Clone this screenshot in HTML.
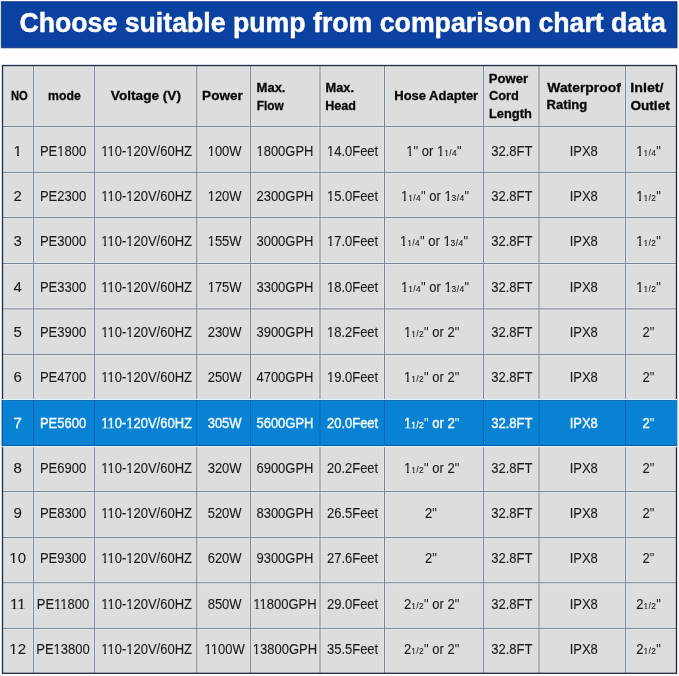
<!DOCTYPE html>
<html><head><meta charset="utf-8"><style>
html,body{margin:0;padding:0;}
body{width:679px;height:676px;background:#fdfefe;position:relative;overflow:hidden;font-family:"Liberation Sans",sans-serif;}
svg{position:absolute;left:0;top:0;will-change:transform;}
</style></head><body>
<svg width="679" height="676" viewBox="0 0 679 676">
<rect x="2.5" y="65.5" width="674.0" height="607.8" fill="#dcdddd"/>
<rect x="32.00" y="65.5" width="1" height="334.5" fill="#e8eef4" opacity="0.55"/>
<rect x="34.00" y="65.5" width="1" height="334.5" fill="#e8eef4" opacity="0.55"/>
<rect x="32.00" y="446.0" width="1" height="227.29999999999995" fill="#e8eef4" opacity="0.55"/>
<rect x="34.00" y="446.0" width="1" height="227.29999999999995" fill="#e8eef4" opacity="0.55"/>
<rect x="93.00" y="65.5" width="1" height="334.5" fill="#e8eef4" opacity="0.55"/>
<rect x="95.00" y="65.5" width="1" height="334.5" fill="#e8eef4" opacity="0.55"/>
<rect x="93.00" y="446.0" width="1" height="227.29999999999995" fill="#e8eef4" opacity="0.55"/>
<rect x="95.00" y="446.0" width="1" height="227.29999999999995" fill="#e8eef4" opacity="0.55"/>
<rect x="195.25" y="65.5" width="1" height="334.5" fill="#e8eef4" opacity="0.55"/>
<rect x="197.25" y="65.5" width="1" height="334.5" fill="#e8eef4" opacity="0.55"/>
<rect x="195.25" y="446.0" width="1" height="227.29999999999995" fill="#e8eef4" opacity="0.55"/>
<rect x="197.25" y="446.0" width="1" height="227.29999999999995" fill="#e8eef4" opacity="0.55"/>
<rect x="249.00" y="65.5" width="1" height="334.5" fill="#e8eef4" opacity="0.55"/>
<rect x="251.00" y="65.5" width="1" height="334.5" fill="#e8eef4" opacity="0.55"/>
<rect x="249.00" y="446.0" width="1" height="227.29999999999995" fill="#e8eef4" opacity="0.55"/>
<rect x="251.00" y="446.0" width="1" height="227.29999999999995" fill="#e8eef4" opacity="0.55"/>
<rect x="318.50" y="65.5" width="1" height="334.5" fill="#e8eef4" opacity="0.55"/>
<rect x="320.50" y="65.5" width="1" height="334.5" fill="#e8eef4" opacity="0.55"/>
<rect x="318.50" y="446.0" width="1" height="227.29999999999995" fill="#e8eef4" opacity="0.55"/>
<rect x="320.50" y="446.0" width="1" height="227.29999999999995" fill="#e8eef4" opacity="0.55"/>
<rect x="383.00" y="65.5" width="1" height="334.5" fill="#e8eef4" opacity="0.55"/>
<rect x="385.00" y="65.5" width="1" height="334.5" fill="#e8eef4" opacity="0.55"/>
<rect x="383.00" y="446.0" width="1" height="227.29999999999995" fill="#e8eef4" opacity="0.55"/>
<rect x="385.00" y="446.0" width="1" height="227.29999999999995" fill="#e8eef4" opacity="0.55"/>
<rect x="482.00" y="65.5" width="1" height="334.5" fill="#e8eef4" opacity="0.55"/>
<rect x="484.00" y="65.5" width="1" height="334.5" fill="#e8eef4" opacity="0.55"/>
<rect x="482.00" y="446.0" width="1" height="227.29999999999995" fill="#e8eef4" opacity="0.55"/>
<rect x="484.00" y="446.0" width="1" height="227.29999999999995" fill="#e8eef4" opacity="0.55"/>
<rect x="537.50" y="65.5" width="1" height="334.5" fill="#e8eef4" opacity="0.55"/>
<rect x="539.50" y="65.5" width="1" height="334.5" fill="#e8eef4" opacity="0.55"/>
<rect x="537.50" y="446.0" width="1" height="227.29999999999995" fill="#e8eef4" opacity="0.55"/>
<rect x="539.50" y="446.0" width="1" height="227.29999999999995" fill="#e8eef4" opacity="0.55"/>
<rect x="624.00" y="65.5" width="1" height="334.5" fill="#e8eef4" opacity="0.55"/>
<rect x="626.00" y="65.5" width="1" height="334.5" fill="#e8eef4" opacity="0.55"/>
<rect x="624.00" y="446.0" width="1" height="227.29999999999995" fill="#e8eef4" opacity="0.55"/>
<rect x="626.00" y="446.0" width="1" height="227.29999999999995" fill="#e8eef4" opacity="0.55"/>
<rect x="2.5" y="125.00" width="674.0" height="1" fill="#e8eef4" opacity="0.55"/>
<rect x="2.5" y="127.00" width="674.0" height="1" fill="#e8eef4" opacity="0.55"/>
<rect x="2.5" y="170.90" width="674.0" height="1" fill="#e8eef4" opacity="0.55"/>
<rect x="2.5" y="172.90" width="674.0" height="1" fill="#e8eef4" opacity="0.55"/>
<rect x="2.5" y="216.00" width="674.0" height="1" fill="#e8eef4" opacity="0.55"/>
<rect x="2.5" y="218.00" width="674.0" height="1" fill="#e8eef4" opacity="0.55"/>
<rect x="2.5" y="262.00" width="674.0" height="1" fill="#e8eef4" opacity="0.55"/>
<rect x="2.5" y="264.00" width="674.0" height="1" fill="#e8eef4" opacity="0.55"/>
<rect x="2.5" y="307.40" width="674.0" height="1" fill="#e8eef4" opacity="0.55"/>
<rect x="2.5" y="309.40" width="674.0" height="1" fill="#e8eef4" opacity="0.55"/>
<rect x="2.5" y="352.90" width="674.0" height="1" fill="#e8eef4" opacity="0.55"/>
<rect x="2.5" y="354.90" width="674.0" height="1" fill="#e8eef4" opacity="0.55"/>
<rect x="2.5" y="490.00" width="674.0" height="1" fill="#e8eef4" opacity="0.55"/>
<rect x="2.5" y="492.00" width="674.0" height="1" fill="#e8eef4" opacity="0.55"/>
<rect x="2.5" y="536.00" width="674.0" height="1" fill="#e8eef4" opacity="0.55"/>
<rect x="2.5" y="538.00" width="674.0" height="1" fill="#e8eef4" opacity="0.55"/>
<rect x="2.5" y="581.20" width="674.0" height="1" fill="#e8eef4" opacity="0.55"/>
<rect x="2.5" y="583.20" width="674.0" height="1" fill="#e8eef4" opacity="0.55"/>
<rect x="2.5" y="626.90" width="674.0" height="1" fill="#e8eef4" opacity="0.55"/>
<rect x="2.5" y="628.90" width="674.0" height="1" fill="#e8eef4" opacity="0.55"/>
<rect x="33.00" y="65.5" width="1" height="607.8" fill="#7c8594"/>
<rect x="94.00" y="65.5" width="1" height="607.8" fill="#7c8594"/>
<rect x="196.25" y="65.5" width="1" height="607.8" fill="#7c8594"/>
<rect x="250.00" y="65.5" width="1" height="607.8" fill="#7c8594"/>
<rect x="319.50" y="65.5" width="1" height="607.8" fill="#7c8594"/>
<rect x="384.00" y="65.5" width="1" height="607.8" fill="#7c8594"/>
<rect x="483.00" y="65.5" width="1" height="607.8" fill="#7c8594"/>
<rect x="538.50" y="65.5" width="1" height="607.8" fill="#7c8594"/>
<rect x="625.00" y="65.5" width="1" height="607.8" fill="#7c8594"/>
<rect x="2.5" y="126.00" width="674.0" height="1" fill="#7c8594"/>
<rect x="2.5" y="171.90" width="674.0" height="1" fill="#7c8594"/>
<rect x="2.5" y="217.00" width="674.0" height="1" fill="#7c8594"/>
<rect x="2.5" y="263.00" width="674.0" height="1" fill="#7c8594"/>
<rect x="2.5" y="308.40" width="674.0" height="1" fill="#7c8594"/>
<rect x="2.5" y="353.90" width="674.0" height="1" fill="#7c8594"/>
<rect x="2.5" y="491.00" width="674.0" height="1" fill="#7c8594"/>
<rect x="2.5" y="537.00" width="674.0" height="1" fill="#7c8594"/>
<rect x="2.5" y="582.20" width="674.0" height="1" fill="#7c8594"/>
<rect x="2.5" y="627.90" width="674.0" height="1" fill="#7c8594"/>
<rect x="2.5" y="65.5" width="674.0" height="607.8" fill="none" stroke="#1d2947" stroke-width="1.3"/>
<rect x="1.8" y="399.0" width="675.4000000000001" height="1" fill="#e2f3fa"/>
<rect x="1.8" y="446.0" width="675.4000000000001" height="1.2" fill="#e0f0f8"/>
<rect x="1.8" y="400.0" width="675.4000000000001" height="46.0" fill="#0982d4"/>
<rect x="1.8" y="400.0" width="675.4000000000001" height="1" fill="#1a6cb0" opacity="0.8"/>
<rect x="1.8" y="445.0" width="675.4000000000001" height="1" fill="#0a58a8" opacity="0.9"/>
<rect x="1.8" y="400.0" width="1.2" height="46.0" fill="#0a5aa8"/>
<rect x="33.00" y="400.0" width="1" height="46.0" fill="#0a66b8"/>
<rect x="94.00" y="400.0" width="1" height="46.0" fill="#0a66b8"/>
<rect x="196.25" y="400.0" width="1" height="46.0" fill="#0a66b8"/>
<rect x="250.00" y="400.0" width="1" height="46.0" fill="#0a66b8"/>
<rect x="319.50" y="400.0" width="1" height="46.0" fill="#0a66b8"/>
<rect x="384.00" y="400.0" width="1" height="46.0" fill="#0a66b8"/>
<rect x="483.00" y="400.0" width="1" height="46.0" fill="#0a66b8"/>
<rect x="538.50" y="400.0" width="1" height="46.0" fill="#0a66b8"/>
<rect x="625.00" y="400.0" width="1" height="46.0" fill="#0a66b8"/>
<rect x="1.3" y="1.7" width="675.7" height="46.1" fill="#0b41a0"/>
<rect x="1.3" y="1.7" width="675.7" height="46.1" fill="none" stroke="#0a2a78" stroke-width="1" opacity="0.8"/>
<text x="19.44" y="31.9" font-family="Liberation Sans" font-weight="bold" font-size="26.8" fill="#ffffff" stroke="#ffffff" stroke-width="0.45" textLength="646.52" lengthAdjust="spacingAndGlyphs">Choose suitable pump from comparison chart data</text>
<text x="10.96" y="100.20" font-family="Liberation Sans" font-weight="bold" font-size="13.4" fill="#080808" stroke="#080808" stroke-width="0.3" textLength="16.79" lengthAdjust="spacingAndGlyphs">NO</text>
<text x="48.05" y="100.20" font-family="Liberation Sans" font-weight="bold" font-size="13.4" fill="#080808" stroke="#080808" stroke-width="0.3" textLength="32.65" lengthAdjust="spacingAndGlyphs">mode</text>
<text x="110.88" y="100.20" font-family="Liberation Sans" font-weight="bold" font-size="13.4" fill="#080808" stroke="#080808" stroke-width="0.3" textLength="70.09" lengthAdjust="spacingAndGlyphs">Voltage (V)</text>
<text x="202.10" y="100.20" font-family="Liberation Sans" font-weight="bold" font-size="13.4" fill="#080808" stroke="#080808" stroke-width="0.3" textLength="40.64" lengthAdjust="spacingAndGlyphs">Power</text>
<text x="256.54" y="91.80" font-family="Liberation Sans" font-weight="bold" font-size="13.4" fill="#080808" stroke="#080808" stroke-width="0.3" textLength="28.97" lengthAdjust="spacingAndGlyphs">Max.</text>
<text x="256.71" y="109.60" font-family="Liberation Sans" font-weight="bold" font-size="13.4" fill="#080808" stroke="#080808" stroke-width="0.3" textLength="27.05" lengthAdjust="spacingAndGlyphs">Flow</text>
<text x="325.45" y="91.80" font-family="Liberation Sans" font-weight="bold" font-size="13.4" fill="#080808" stroke="#080808" stroke-width="0.3" textLength="28.58" lengthAdjust="spacingAndGlyphs">Max.</text>
<text x="325.15" y="109.60" font-family="Liberation Sans" font-weight="bold" font-size="13.4" fill="#080808" stroke="#080808" stroke-width="0.3" textLength="30.66" lengthAdjust="spacingAndGlyphs">Head</text>
<text x="394.25" y="99.90" font-family="Liberation Sans" font-weight="bold" font-size="13.4" fill="#080808" stroke="#080808" stroke-width="0.3" textLength="83.92" lengthAdjust="spacingAndGlyphs">Hose Adapter</text>
<text x="488.85" y="82.60" font-family="Liberation Sans" font-weight="bold" font-size="13.4" fill="#080808" stroke="#080808" stroke-width="0.3" textLength="39.34" lengthAdjust="spacingAndGlyphs">Power</text>
<text x="489.07" y="100.20" font-family="Liberation Sans" font-weight="bold" font-size="13.4" fill="#080808" stroke="#080808" stroke-width="0.3" textLength="29.81" lengthAdjust="spacingAndGlyphs">Cord</text>
<text x="488.96" y="118.30" font-family="Liberation Sans" font-weight="bold" font-size="13.4" fill="#080808" stroke="#080808" stroke-width="0.3" textLength="42.92" lengthAdjust="spacingAndGlyphs">Length</text>
<text x="547.31" y="91.50" font-family="Liberation Sans" font-weight="bold" font-size="13.4" fill="#080808" stroke="#080808" stroke-width="0.3" textLength="73.49" lengthAdjust="spacingAndGlyphs">Waterproof</text>
<text x="546.60" y="109.40" font-family="Liberation Sans" font-weight="bold" font-size="13.4" fill="#080808" stroke="#080808" stroke-width="0.3" textLength="40.61" lengthAdjust="spacingAndGlyphs">Rating</text>
<text x="630.26" y="92.00" font-family="Liberation Sans" font-weight="bold" font-size="13.4" fill="#080808" stroke="#080808" stroke-width="0.3" textLength="33.33" lengthAdjust="spacingAndGlyphs">Inlet/</text>
<text x="630.46" y="109.60" font-family="Liberation Sans" font-weight="bold" font-size="13.4" fill="#080808" stroke="#080808" stroke-width="0.3" textLength="39.27" lengthAdjust="spacingAndGlyphs">Outlet</text>
<text class="b" transform="translate(17.70,155.90) scale(1,1.03)" x="0" y="0" font-family="Liberation Sans" font-size="15" fill="#1a1a1a" stroke="#1a1a1a" stroke-width="0.1" text-anchor="middle">1</text>
<text class="b" transform="translate(63.00,155.90) scale(1,1.06)" x="0" y="0" font-family="Liberation Sans" font-size="13" fill="#1a1a1a" stroke="#1a1a1a" stroke-width="0.1" text-anchor="middle">PE1800</text>
<text class="b" transform="translate(146.62,155.90) scale(1,1.06)" x="0" y="0" font-family="Liberation Sans" font-size="13" fill="#1a1a1a" stroke="#1a1a1a" stroke-width="0.1" text-anchor="middle">110-120V/60HZ</text>
<text class="b" transform="translate(224.62,155.90) scale(1,1.06)" x="0" y="0" font-family="Liberation Sans" font-size="13" fill="#1a1a1a" stroke="#1a1a1a" stroke-width="0.1" text-anchor="middle">100W</text>
<text class="b" transform="translate(284.95,155.90) scale(1,1.06)" x="0" y="0" font-family="Liberation Sans" font-size="13" fill="#1a1a1a" stroke="#1a1a1a" stroke-width="0.1" text-anchor="middle">1800GPH</text>
<text class="b" transform="translate(352.55,155.90) scale(1,1.06)" x="0" y="0" font-family="Liberation Sans" font-size="13" fill="#1a1a1a" stroke="#1a1a1a" stroke-width="0.1" text-anchor="middle">14.0Feet</text>
<text class="b" transform="translate(434.00,155.90) scale(1,1.06)" x="0" y="0" font-family="Liberation Sans" font-size="13" fill="#1a1a1a" stroke="#1a1a1a" stroke-width="0.1" text-anchor="middle">1<tspan stroke-width="0" font-size="13">"</tspan> or 1<tspan font-size="8.4" letter-spacing="0.4">1/4</tspan><tspan stroke-width="0" font-size="13">"</tspan></text>
<text class="b" transform="translate(511.85,155.90) scale(1,1.06)" x="0" y="0" font-family="Liberation Sans" font-size="13" fill="#1a1a1a" stroke="#1a1a1a" stroke-width="0.1" text-anchor="middle">32.8FT</text>
<text class="b" transform="translate(583.75,155.90) scale(1,1.06)" x="0" y="0" font-family="Liberation Sans" font-size="13" fill="#1a1a1a" stroke="#1a1a1a" stroke-width="0.1" text-anchor="middle">IPX8</text>
<text class="b" transform="translate(648.50,155.90) scale(1,1.06)" x="0" y="0" font-family="Liberation Sans" font-size="13" fill="#1a1a1a" stroke="#1a1a1a" stroke-width="0.1" text-anchor="middle">1<tspan font-size="8.4" letter-spacing="0.4">1/4</tspan><tspan stroke-width="0" font-size="13">"</tspan></text>
<text class="b" transform="translate(17.70,201.17) scale(1,1.03)" x="0" y="0" font-family="Liberation Sans" font-size="15" fill="#1a1a1a" stroke="#1a1a1a" stroke-width="0.1" text-anchor="middle">2</text>
<text class="b" transform="translate(63.00,201.17) scale(1,1.06)" x="0" y="0" font-family="Liberation Sans" font-size="13" fill="#1a1a1a" stroke="#1a1a1a" stroke-width="0.1" text-anchor="middle">PE2300</text>
<text class="b" transform="translate(146.62,201.17) scale(1,1.06)" x="0" y="0" font-family="Liberation Sans" font-size="13" fill="#1a1a1a" stroke="#1a1a1a" stroke-width="0.1" text-anchor="middle">110-120V/60HZ</text>
<text class="b" transform="translate(224.62,201.17) scale(1,1.06)" x="0" y="0" font-family="Liberation Sans" font-size="13" fill="#1a1a1a" stroke="#1a1a1a" stroke-width="0.1" text-anchor="middle">120W</text>
<text class="b" transform="translate(284.95,201.17) scale(1,1.06)" x="0" y="0" font-family="Liberation Sans" font-size="13" fill="#1a1a1a" stroke="#1a1a1a" stroke-width="0.1" text-anchor="middle">2300GPH</text>
<text class="b" transform="translate(352.55,201.17) scale(1,1.06)" x="0" y="0" font-family="Liberation Sans" font-size="13" fill="#1a1a1a" stroke="#1a1a1a" stroke-width="0.1" text-anchor="middle">15.0Feet</text>
<text class="b" transform="translate(435.00,201.17) scale(1,1.06)" x="0" y="0" font-family="Liberation Sans" font-size="13" fill="#1a1a1a" stroke="#1a1a1a" stroke-width="0.1" text-anchor="middle">1<tspan font-size="8.4" letter-spacing="0.4">1/4</tspan><tspan stroke-width="0" font-size="13">"</tspan> or 1<tspan font-size="8.4" letter-spacing="0.4">3/4</tspan><tspan stroke-width="0" font-size="13">"</tspan></text>
<text class="b" transform="translate(511.85,201.17) scale(1,1.06)" x="0" y="0" font-family="Liberation Sans" font-size="13" fill="#1a1a1a" stroke="#1a1a1a" stroke-width="0.1" text-anchor="middle">32.8FT</text>
<text class="b" transform="translate(583.75,201.17) scale(1,1.06)" x="0" y="0" font-family="Liberation Sans" font-size="13" fill="#1a1a1a" stroke="#1a1a1a" stroke-width="0.1" text-anchor="middle">IPX8</text>
<text class="b" transform="translate(648.50,201.17) scale(1,1.06)" x="0" y="0" font-family="Liberation Sans" font-size="13" fill="#1a1a1a" stroke="#1a1a1a" stroke-width="0.1" text-anchor="middle">1<tspan font-size="8.4" letter-spacing="0.4">1/2</tspan><tspan stroke-width="0" font-size="13">"</tspan></text>
<text class="b" transform="translate(17.70,246.44) scale(1,1.03)" x="0" y="0" font-family="Liberation Sans" font-size="15" fill="#1a1a1a" stroke="#1a1a1a" stroke-width="0.1" text-anchor="middle">3</text>
<text class="b" transform="translate(63.00,246.44) scale(1,1.06)" x="0" y="0" font-family="Liberation Sans" font-size="13" fill="#1a1a1a" stroke="#1a1a1a" stroke-width="0.1" text-anchor="middle">PE3000</text>
<text class="b" transform="translate(146.62,246.44) scale(1,1.06)" x="0" y="0" font-family="Liberation Sans" font-size="13" fill="#1a1a1a" stroke="#1a1a1a" stroke-width="0.1" text-anchor="middle">110-120V/60HZ</text>
<text class="b" transform="translate(224.62,246.44) scale(1,1.06)" x="0" y="0" font-family="Liberation Sans" font-size="13" fill="#1a1a1a" stroke="#1a1a1a" stroke-width="0.1" text-anchor="middle">155W</text>
<text class="b" transform="translate(284.95,246.44) scale(1,1.06)" x="0" y="0" font-family="Liberation Sans" font-size="13" fill="#1a1a1a" stroke="#1a1a1a" stroke-width="0.1" text-anchor="middle">3000GPH</text>
<text class="b" transform="translate(352.55,246.44) scale(1,1.06)" x="0" y="0" font-family="Liberation Sans" font-size="13" fill="#1a1a1a" stroke="#1a1a1a" stroke-width="0.1" text-anchor="middle">17.0Feet</text>
<text class="b" transform="translate(434.00,246.44) scale(1,1.06)" x="0" y="0" font-family="Liberation Sans" font-size="13" fill="#1a1a1a" stroke="#1a1a1a" stroke-width="0.1" text-anchor="middle">1<tspan font-size="8.4" letter-spacing="0.4">1/4</tspan><tspan stroke-width="0" font-size="13">"</tspan> or 1<tspan font-size="8.4" letter-spacing="0.4">3/4</tspan><tspan stroke-width="0" font-size="13">"</tspan></text>
<text class="b" transform="translate(511.85,246.44) scale(1,1.06)" x="0" y="0" font-family="Liberation Sans" font-size="13" fill="#1a1a1a" stroke="#1a1a1a" stroke-width="0.1" text-anchor="middle">32.8FT</text>
<text class="b" transform="translate(583.75,246.44) scale(1,1.06)" x="0" y="0" font-family="Liberation Sans" font-size="13" fill="#1a1a1a" stroke="#1a1a1a" stroke-width="0.1" text-anchor="middle">IPX8</text>
<text class="b" transform="translate(648.50,246.44) scale(1,1.06)" x="0" y="0" font-family="Liberation Sans" font-size="13" fill="#1a1a1a" stroke="#1a1a1a" stroke-width="0.1" text-anchor="middle">1<tspan font-size="8.4" letter-spacing="0.4">1/2</tspan><tspan stroke-width="0" font-size="13">"</tspan></text>
<text class="b" transform="translate(17.70,291.71) scale(1,1.03)" x="0" y="0" font-family="Liberation Sans" font-size="15" fill="#1a1a1a" stroke="#1a1a1a" stroke-width="0.1" text-anchor="middle">4</text>
<text class="b" transform="translate(63.00,291.71) scale(1,1.06)" x="0" y="0" font-family="Liberation Sans" font-size="13" fill="#1a1a1a" stroke="#1a1a1a" stroke-width="0.1" text-anchor="middle">PE3300</text>
<text class="b" transform="translate(146.62,291.71) scale(1,1.06)" x="0" y="0" font-family="Liberation Sans" font-size="13" fill="#1a1a1a" stroke="#1a1a1a" stroke-width="0.1" text-anchor="middle">110-120V/60HZ</text>
<text class="b" transform="translate(224.62,291.71) scale(1,1.06)" x="0" y="0" font-family="Liberation Sans" font-size="13" fill="#1a1a1a" stroke="#1a1a1a" stroke-width="0.1" text-anchor="middle">175W</text>
<text class="b" transform="translate(284.95,291.71) scale(1,1.06)" x="0" y="0" font-family="Liberation Sans" font-size="13" fill="#1a1a1a" stroke="#1a1a1a" stroke-width="0.1" text-anchor="middle">3300GPH</text>
<text class="b" transform="translate(352.55,291.71) scale(1,1.06)" x="0" y="0" font-family="Liberation Sans" font-size="13" fill="#1a1a1a" stroke="#1a1a1a" stroke-width="0.1" text-anchor="middle">18.0Feet</text>
<text class="b" transform="translate(435.00,291.71) scale(1,1.06)" x="0" y="0" font-family="Liberation Sans" font-size="13" fill="#1a1a1a" stroke="#1a1a1a" stroke-width="0.1" text-anchor="middle">1<tspan font-size="8.4" letter-spacing="0.4">1/4</tspan><tspan stroke-width="0" font-size="13">"</tspan> or 1<tspan font-size="8.4" letter-spacing="0.4">3/4</tspan><tspan stroke-width="0" font-size="13">"</tspan></text>
<text class="b" transform="translate(511.85,291.71) scale(1,1.06)" x="0" y="0" font-family="Liberation Sans" font-size="13" fill="#1a1a1a" stroke="#1a1a1a" stroke-width="0.1" text-anchor="middle">32.8FT</text>
<text class="b" transform="translate(583.75,291.71) scale(1,1.06)" x="0" y="0" font-family="Liberation Sans" font-size="13" fill="#1a1a1a" stroke="#1a1a1a" stroke-width="0.1" text-anchor="middle">IPX8</text>
<text class="b" transform="translate(648.50,291.71) scale(1,1.06)" x="0" y="0" font-family="Liberation Sans" font-size="13" fill="#1a1a1a" stroke="#1a1a1a" stroke-width="0.1" text-anchor="middle">1<tspan font-size="8.4" letter-spacing="0.4">1/2</tspan><tspan stroke-width="0" font-size="13">"</tspan></text>
<text class="b" transform="translate(17.70,336.98) scale(1,1.03)" x="0" y="0" font-family="Liberation Sans" font-size="15" fill="#1a1a1a" stroke="#1a1a1a" stroke-width="0.1" text-anchor="middle">5</text>
<text class="b" transform="translate(63.00,336.98) scale(1,1.06)" x="0" y="0" font-family="Liberation Sans" font-size="13" fill="#1a1a1a" stroke="#1a1a1a" stroke-width="0.1" text-anchor="middle">PE3900</text>
<text class="b" transform="translate(146.62,336.98) scale(1,1.06)" x="0" y="0" font-family="Liberation Sans" font-size="13" fill="#1a1a1a" stroke="#1a1a1a" stroke-width="0.1" text-anchor="middle">110-120V/60HZ</text>
<text class="b" transform="translate(224.62,336.98) scale(1,1.06)" x="0" y="0" font-family="Liberation Sans" font-size="13" fill="#1a1a1a" stroke="#1a1a1a" stroke-width="0.1" text-anchor="middle">230W</text>
<text class="b" transform="translate(284.95,336.98) scale(1,1.06)" x="0" y="0" font-family="Liberation Sans" font-size="13" fill="#1a1a1a" stroke="#1a1a1a" stroke-width="0.1" text-anchor="middle">3900GPH</text>
<text class="b" transform="translate(352.55,336.98) scale(1,1.06)" x="0" y="0" font-family="Liberation Sans" font-size="13" fill="#1a1a1a" stroke="#1a1a1a" stroke-width="0.1" text-anchor="middle">18.2Feet</text>
<text class="b" transform="translate(431.60,336.98) scale(1,1.06)" x="0" y="0" font-family="Liberation Sans" font-size="13" fill="#1a1a1a" stroke="#1a1a1a" stroke-width="0.1" text-anchor="middle">1<tspan font-size="8.4" letter-spacing="0.4">1/2</tspan><tspan stroke-width="0" font-size="13">"</tspan> or 2<tspan stroke-width="0" font-size="13">"</tspan></text>
<text class="b" transform="translate(511.85,336.98) scale(1,1.06)" x="0" y="0" font-family="Liberation Sans" font-size="13" fill="#1a1a1a" stroke="#1a1a1a" stroke-width="0.1" text-anchor="middle">32.8FT</text>
<text class="b" transform="translate(583.75,336.98) scale(1,1.06)" x="0" y="0" font-family="Liberation Sans" font-size="13" fill="#1a1a1a" stroke="#1a1a1a" stroke-width="0.1" text-anchor="middle">IPX8</text>
<text class="b" transform="translate(648.50,336.98) scale(1,1.06)" x="0" y="0" font-family="Liberation Sans" font-size="13" fill="#1a1a1a" stroke="#1a1a1a" stroke-width="0.1" text-anchor="middle">2<tspan stroke-width="0" font-size="13">"</tspan></text>
<text class="b" transform="translate(17.70,382.25) scale(1,1.03)" x="0" y="0" font-family="Liberation Sans" font-size="15" fill="#1a1a1a" stroke="#1a1a1a" stroke-width="0.1" text-anchor="middle">6</text>
<text class="b" transform="translate(63.00,382.25) scale(1,1.06)" x="0" y="0" font-family="Liberation Sans" font-size="13" fill="#1a1a1a" stroke="#1a1a1a" stroke-width="0.1" text-anchor="middle">PE4700</text>
<text class="b" transform="translate(146.62,382.25) scale(1,1.06)" x="0" y="0" font-family="Liberation Sans" font-size="13" fill="#1a1a1a" stroke="#1a1a1a" stroke-width="0.1" text-anchor="middle">110-120V/60HZ</text>
<text class="b" transform="translate(224.62,382.25) scale(1,1.06)" x="0" y="0" font-family="Liberation Sans" font-size="13" fill="#1a1a1a" stroke="#1a1a1a" stroke-width="0.1" text-anchor="middle">250W</text>
<text class="b" transform="translate(284.95,382.25) scale(1,1.06)" x="0" y="0" font-family="Liberation Sans" font-size="13" fill="#1a1a1a" stroke="#1a1a1a" stroke-width="0.1" text-anchor="middle">4700GPH</text>
<text class="b" transform="translate(352.55,382.25) scale(1,1.06)" x="0" y="0" font-family="Liberation Sans" font-size="13" fill="#1a1a1a" stroke="#1a1a1a" stroke-width="0.1" text-anchor="middle">19.0Feet</text>
<text class="b" transform="translate(431.60,382.25) scale(1,1.06)" x="0" y="0" font-family="Liberation Sans" font-size="13" fill="#1a1a1a" stroke="#1a1a1a" stroke-width="0.1" text-anchor="middle">1<tspan font-size="8.4" letter-spacing="0.4">1/2</tspan><tspan stroke-width="0" font-size="13">"</tspan> or 2<tspan stroke-width="0" font-size="13">"</tspan></text>
<text class="b" transform="translate(511.85,382.25) scale(1,1.06)" x="0" y="0" font-family="Liberation Sans" font-size="13" fill="#1a1a1a" stroke="#1a1a1a" stroke-width="0.1" text-anchor="middle">32.8FT</text>
<text class="b" transform="translate(583.75,382.25) scale(1,1.06)" x="0" y="0" font-family="Liberation Sans" font-size="13" fill="#1a1a1a" stroke="#1a1a1a" stroke-width="0.1" text-anchor="middle">IPX8</text>
<text class="b" transform="translate(648.50,382.25) scale(1,1.06)" x="0" y="0" font-family="Liberation Sans" font-size="13" fill="#1a1a1a" stroke="#1a1a1a" stroke-width="0.1" text-anchor="middle">2<tspan stroke-width="0" font-size="13">"</tspan></text>
<text class="b" transform="translate(17.70,427.52) scale(1,1.03)" x="0" y="0" font-family="Liberation Sans" font-size="15" fill="#f4fbff" stroke="#f4fbff" stroke-width="0.35" text-anchor="middle">7</text>
<text class="b" transform="translate(63.00,427.52) scale(1,1.06)" x="0" y="0" font-family="Liberation Sans" font-size="13" fill="#f4fbff" stroke="#f4fbff" stroke-width="0.35" text-anchor="middle">PE5600</text>
<text class="b" transform="translate(146.62,427.52) scale(1,1.06)" x="0" y="0" font-family="Liberation Sans" font-size="13" fill="#f4fbff" stroke="#f4fbff" stroke-width="0.35" text-anchor="middle">110-120V/60HZ</text>
<text class="b" transform="translate(224.62,427.52) scale(1,1.06)" x="0" y="0" font-family="Liberation Sans" font-size="13" fill="#f4fbff" stroke="#f4fbff" stroke-width="0.35" text-anchor="middle">305W</text>
<text class="b" transform="translate(284.95,427.52) scale(1,1.06)" x="0" y="0" font-family="Liberation Sans" font-size="13" fill="#f4fbff" stroke="#f4fbff" stroke-width="0.35" text-anchor="middle">5600GPH</text>
<text class="b" transform="translate(352.55,427.52) scale(1,1.06)" x="0" y="0" font-family="Liberation Sans" font-size="13" fill="#f4fbff" stroke="#f4fbff" stroke-width="0.35" text-anchor="middle">20.0Feet</text>
<text class="b" transform="translate(431.60,427.52) scale(1,1.06)" x="0" y="0" font-family="Liberation Sans" font-size="13" fill="#f4fbff" stroke="#f4fbff" stroke-width="0.35" text-anchor="middle">1<tspan font-size="8.4" letter-spacing="0.4">1/2</tspan><tspan stroke-width="0" font-size="13">"</tspan> or 2<tspan stroke-width="0" font-size="13">"</tspan></text>
<text class="b" transform="translate(511.85,427.52) scale(1,1.06)" x="0" y="0" font-family="Liberation Sans" font-size="13" fill="#f4fbff" stroke="#f4fbff" stroke-width="0.35" text-anchor="middle">32.8FT</text>
<text class="b" transform="translate(583.75,427.52) scale(1,1.06)" x="0" y="0" font-family="Liberation Sans" font-size="13" fill="#f4fbff" stroke="#f4fbff" stroke-width="0.35" text-anchor="middle">IPX8</text>
<text class="b" transform="translate(648.50,427.52) scale(1,1.06)" x="0" y="0" font-family="Liberation Sans" font-size="13" fill="#f4fbff" stroke="#f4fbff" stroke-width="0.35" text-anchor="middle">2<tspan stroke-width="0" font-size="13">"</tspan></text>
<text class="b" transform="translate(17.70,472.79) scale(1,1.03)" x="0" y="0" font-family="Liberation Sans" font-size="15" fill="#1a1a1a" stroke="#1a1a1a" stroke-width="0.1" text-anchor="middle">8</text>
<text class="b" transform="translate(63.00,472.79) scale(1,1.06)" x="0" y="0" font-family="Liberation Sans" font-size="13" fill="#1a1a1a" stroke="#1a1a1a" stroke-width="0.1" text-anchor="middle">PE6900</text>
<text class="b" transform="translate(146.62,472.79) scale(1,1.06)" x="0" y="0" font-family="Liberation Sans" font-size="13" fill="#1a1a1a" stroke="#1a1a1a" stroke-width="0.1" text-anchor="middle">110-120V/60HZ</text>
<text class="b" transform="translate(224.62,472.79) scale(1,1.06)" x="0" y="0" font-family="Liberation Sans" font-size="13" fill="#1a1a1a" stroke="#1a1a1a" stroke-width="0.1" text-anchor="middle">320W</text>
<text class="b" transform="translate(284.95,472.79) scale(1,1.06)" x="0" y="0" font-family="Liberation Sans" font-size="13" fill="#1a1a1a" stroke="#1a1a1a" stroke-width="0.1" text-anchor="middle">6900GPH</text>
<text class="b" transform="translate(352.55,472.79) scale(1,1.06)" x="0" y="0" font-family="Liberation Sans" font-size="13" fill="#1a1a1a" stroke="#1a1a1a" stroke-width="0.1" text-anchor="middle">20.2Feet</text>
<text class="b" transform="translate(431.60,472.79) scale(1,1.06)" x="0" y="0" font-family="Liberation Sans" font-size="13" fill="#1a1a1a" stroke="#1a1a1a" stroke-width="0.1" text-anchor="middle">1<tspan font-size="8.4" letter-spacing="0.4">1/2</tspan><tspan stroke-width="0" font-size="13">"</tspan> or 2<tspan stroke-width="0" font-size="13">"</tspan></text>
<text class="b" transform="translate(511.85,472.79) scale(1,1.06)" x="0" y="0" font-family="Liberation Sans" font-size="13" fill="#1a1a1a" stroke="#1a1a1a" stroke-width="0.1" text-anchor="middle">32.8FT</text>
<text class="b" transform="translate(583.75,472.79) scale(1,1.06)" x="0" y="0" font-family="Liberation Sans" font-size="13" fill="#1a1a1a" stroke="#1a1a1a" stroke-width="0.1" text-anchor="middle">IPX8</text>
<text class="b" transform="translate(648.50,472.79) scale(1,1.06)" x="0" y="0" font-family="Liberation Sans" font-size="13" fill="#1a1a1a" stroke="#1a1a1a" stroke-width="0.1" text-anchor="middle">2<tspan stroke-width="0" font-size="13">"</tspan></text>
<text class="b" transform="translate(17.70,518.06) scale(1,1.03)" x="0" y="0" font-family="Liberation Sans" font-size="15" fill="#1a1a1a" stroke="#1a1a1a" stroke-width="0.1" text-anchor="middle">9</text>
<text class="b" transform="translate(63.00,518.06) scale(1,1.06)" x="0" y="0" font-family="Liberation Sans" font-size="13" fill="#1a1a1a" stroke="#1a1a1a" stroke-width="0.1" text-anchor="middle">PE8300</text>
<text class="b" transform="translate(146.62,518.06) scale(1,1.06)" x="0" y="0" font-family="Liberation Sans" font-size="13" fill="#1a1a1a" stroke="#1a1a1a" stroke-width="0.1" text-anchor="middle">110-120V/60HZ</text>
<text class="b" transform="translate(224.62,518.06) scale(1,1.06)" x="0" y="0" font-family="Liberation Sans" font-size="13" fill="#1a1a1a" stroke="#1a1a1a" stroke-width="0.1" text-anchor="middle">520W</text>
<text class="b" transform="translate(284.95,518.06) scale(1,1.06)" x="0" y="0" font-family="Liberation Sans" font-size="13" fill="#1a1a1a" stroke="#1a1a1a" stroke-width="0.1" text-anchor="middle">8300GPH</text>
<text class="b" transform="translate(352.55,518.06) scale(1,1.06)" x="0" y="0" font-family="Liberation Sans" font-size="13" fill="#1a1a1a" stroke="#1a1a1a" stroke-width="0.1" text-anchor="middle">26.5Feet</text>
<text class="b" transform="translate(431.00,518.06) scale(1,1.06)" x="0" y="0" font-family="Liberation Sans" font-size="13" fill="#1a1a1a" stroke="#1a1a1a" stroke-width="0.1" text-anchor="middle">2<tspan stroke-width="0" font-size="13">"</tspan></text>
<text class="b" transform="translate(511.85,518.06) scale(1,1.06)" x="0" y="0" font-family="Liberation Sans" font-size="13" fill="#1a1a1a" stroke="#1a1a1a" stroke-width="0.1" text-anchor="middle">32.8FT</text>
<text class="b" transform="translate(583.75,518.06) scale(1,1.06)" x="0" y="0" font-family="Liberation Sans" font-size="13" fill="#1a1a1a" stroke="#1a1a1a" stroke-width="0.1" text-anchor="middle">IPX8</text>
<text class="b" transform="translate(648.50,518.06) scale(1,1.06)" x="0" y="0" font-family="Liberation Sans" font-size="13" fill="#1a1a1a" stroke="#1a1a1a" stroke-width="0.1" text-anchor="middle">2<tspan stroke-width="0" font-size="13">"</tspan></text>
<text class="b" transform="translate(17.70,563.33) scale(1,1.03)" x="0" y="0" font-family="Liberation Sans" font-size="15" fill="#1a1a1a" stroke="#1a1a1a" stroke-width="0.1" text-anchor="middle">10</text>
<text class="b" transform="translate(63.00,563.33) scale(1,1.06)" x="0" y="0" font-family="Liberation Sans" font-size="13" fill="#1a1a1a" stroke="#1a1a1a" stroke-width="0.1" text-anchor="middle">PE9300</text>
<text class="b" transform="translate(146.62,563.33) scale(1,1.06)" x="0" y="0" font-family="Liberation Sans" font-size="13" fill="#1a1a1a" stroke="#1a1a1a" stroke-width="0.1" text-anchor="middle">110-120V/60HZ</text>
<text class="b" transform="translate(224.62,563.33) scale(1,1.06)" x="0" y="0" font-family="Liberation Sans" font-size="13" fill="#1a1a1a" stroke="#1a1a1a" stroke-width="0.1" text-anchor="middle">620W</text>
<text class="b" transform="translate(284.95,563.33) scale(1,1.06)" x="0" y="0" font-family="Liberation Sans" font-size="13" fill="#1a1a1a" stroke="#1a1a1a" stroke-width="0.1" text-anchor="middle">9300GPH</text>
<text class="b" transform="translate(352.55,563.33) scale(1,1.06)" x="0" y="0" font-family="Liberation Sans" font-size="13" fill="#1a1a1a" stroke="#1a1a1a" stroke-width="0.1" text-anchor="middle">27.6Feet</text>
<text class="b" transform="translate(431.00,563.33) scale(1,1.06)" x="0" y="0" font-family="Liberation Sans" font-size="13" fill="#1a1a1a" stroke="#1a1a1a" stroke-width="0.1" text-anchor="middle">2<tspan stroke-width="0" font-size="13">"</tspan></text>
<text class="b" transform="translate(511.85,563.33) scale(1,1.06)" x="0" y="0" font-family="Liberation Sans" font-size="13" fill="#1a1a1a" stroke="#1a1a1a" stroke-width="0.1" text-anchor="middle">32.8FT</text>
<text class="b" transform="translate(583.75,563.33) scale(1,1.06)" x="0" y="0" font-family="Liberation Sans" font-size="13" fill="#1a1a1a" stroke="#1a1a1a" stroke-width="0.1" text-anchor="middle">IPX8</text>
<text class="b" transform="translate(648.50,563.33) scale(1,1.06)" x="0" y="0" font-family="Liberation Sans" font-size="13" fill="#1a1a1a" stroke="#1a1a1a" stroke-width="0.1" text-anchor="middle">2<tspan stroke-width="0" font-size="13">"</tspan></text>
<text class="b" transform="translate(17.70,608.60) scale(1,1.03)" x="0" y="0" font-family="Liberation Sans" font-size="15" fill="#1a1a1a" stroke="#1a1a1a" stroke-width="0.1" text-anchor="middle">11</text>
<text class="b" transform="translate(63.00,608.60) scale(1,1.06)" x="0" y="0" font-family="Liberation Sans" font-size="13" fill="#1a1a1a" stroke="#1a1a1a" stroke-width="0.1" text-anchor="middle">PE11800</text>
<text class="b" transform="translate(146.62,608.60) scale(1,1.06)" x="0" y="0" font-family="Liberation Sans" font-size="13" fill="#1a1a1a" stroke="#1a1a1a" stroke-width="0.1" text-anchor="middle">110-120V/60HZ</text>
<text class="b" transform="translate(224.62,608.60) scale(1,1.06)" x="0" y="0" font-family="Liberation Sans" font-size="13" fill="#1a1a1a" stroke="#1a1a1a" stroke-width="0.1" text-anchor="middle">850W</text>
<text class="b" transform="translate(284.95,608.60) scale(1,1.06)" x="0" y="0" font-family="Liberation Sans" font-size="13" fill="#1a1a1a" stroke="#1a1a1a" stroke-width="0.1" text-anchor="middle">11800GPH</text>
<text class="b" transform="translate(352.55,608.60) scale(1,1.06)" x="0" y="0" font-family="Liberation Sans" font-size="13" fill="#1a1a1a" stroke="#1a1a1a" stroke-width="0.1" text-anchor="middle">29.0Feet</text>
<text class="b" transform="translate(431.60,608.60) scale(1,1.06)" x="0" y="0" font-family="Liberation Sans" font-size="13" fill="#1a1a1a" stroke="#1a1a1a" stroke-width="0.1" text-anchor="middle">2<tspan font-size="8.4" letter-spacing="0.4">1/2</tspan><tspan stroke-width="0" font-size="13">"</tspan> or 2<tspan stroke-width="0" font-size="13">"</tspan></text>
<text class="b" transform="translate(511.85,608.60) scale(1,1.06)" x="0" y="0" font-family="Liberation Sans" font-size="13" fill="#1a1a1a" stroke="#1a1a1a" stroke-width="0.1" text-anchor="middle">32.8FT</text>
<text class="b" transform="translate(583.75,608.60) scale(1,1.06)" x="0" y="0" font-family="Liberation Sans" font-size="13" fill="#1a1a1a" stroke="#1a1a1a" stroke-width="0.1" text-anchor="middle">IPX8</text>
<text class="b" transform="translate(648.50,608.60) scale(1,1.06)" x="0" y="0" font-family="Liberation Sans" font-size="13" fill="#1a1a1a" stroke="#1a1a1a" stroke-width="0.1" text-anchor="middle">2<tspan font-size="8.4" letter-spacing="0.4">1/2</tspan><tspan stroke-width="0" font-size="13">"</tspan></text>
<text class="b" transform="translate(17.70,653.87) scale(1,1.03)" x="0" y="0" font-family="Liberation Sans" font-size="15" fill="#1a1a1a" stroke="#1a1a1a" stroke-width="0.1" text-anchor="middle">12</text>
<text class="b" transform="translate(63.00,653.87) scale(1,1.06)" x="0" y="0" font-family="Liberation Sans" font-size="13" fill="#1a1a1a" stroke="#1a1a1a" stroke-width="0.1" text-anchor="middle">PE13800</text>
<text class="b" transform="translate(146.62,653.87) scale(1,1.06)" x="0" y="0" font-family="Liberation Sans" font-size="13" fill="#1a1a1a" stroke="#1a1a1a" stroke-width="0.1" text-anchor="middle">110-120V/60HZ</text>
<text class="b" transform="translate(224.62,653.87) scale(1,1.06)" x="0" y="0" font-family="Liberation Sans" font-size="13" fill="#1a1a1a" stroke="#1a1a1a" stroke-width="0.1" text-anchor="middle">1100W</text>
<text class="b" transform="translate(284.95,653.87) scale(1,1.06)" x="0" y="0" font-family="Liberation Sans" font-size="13" fill="#1a1a1a" stroke="#1a1a1a" stroke-width="0.1" text-anchor="middle">13800GPH</text>
<text class="b" transform="translate(352.55,653.87) scale(1,1.06)" x="0" y="0" font-family="Liberation Sans" font-size="13" fill="#1a1a1a" stroke="#1a1a1a" stroke-width="0.1" text-anchor="middle">35.5Feet</text>
<text class="b" transform="translate(431.60,653.87) scale(1,1.06)" x="0" y="0" font-family="Liberation Sans" font-size="13" fill="#1a1a1a" stroke="#1a1a1a" stroke-width="0.1" text-anchor="middle">2<tspan font-size="8.4" letter-spacing="0.4">1/2</tspan><tspan stroke-width="0" font-size="13">"</tspan> or 2<tspan stroke-width="0" font-size="13">"</tspan></text>
<text class="b" transform="translate(511.85,653.87) scale(1,1.06)" x="0" y="0" font-family="Liberation Sans" font-size="13" fill="#1a1a1a" stroke="#1a1a1a" stroke-width="0.1" text-anchor="middle">32.8FT</text>
<text class="b" transform="translate(583.75,653.87) scale(1,1.06)" x="0" y="0" font-family="Liberation Sans" font-size="13" fill="#1a1a1a" stroke="#1a1a1a" stroke-width="0.1" text-anchor="middle">IPX8</text>
<text class="b" transform="translate(648.50,653.87) scale(1,1.06)" x="0" y="0" font-family="Liberation Sans" font-size="13" fill="#1a1a1a" stroke="#1a1a1a" stroke-width="0.1" text-anchor="middle">2<tspan font-size="8.4" letter-spacing="0.4">1/2</tspan><tspan stroke-width="0" font-size="13">"</tspan></text>
<rect x="13.87" y="153.85" width="3.07" height="2.20" fill="#dcdddd"/>
<rect x="18.96" y="153.85" width="2.90" height="2.20" fill="#dcdddd"/>
<rect x="57.39" y="153.97" width="2.73" height="2.08" fill="#dcdddd"/>
<rect x="61.97" y="153.97" width="2.58" height="2.08" fill="#dcdddd"/>
<rect x="101.47" y="153.97" width="2.73" height="2.08" fill="#dcdddd"/>
<rect x="106.05" y="153.97" width="2.58" height="2.08" fill="#dcdddd"/>
<rect x="107.72" y="153.97" width="2.73" height="2.08" fill="#dcdddd"/>
<rect x="112.30" y="153.97" width="2.58" height="2.08" fill="#dcdddd"/>
<rect x="126.48" y="153.97" width="2.73" height="2.08" fill="#dcdddd"/>
<rect x="131.05" y="153.97" width="2.58" height="2.08" fill="#dcdddd"/>
<rect x="207.85" y="153.97" width="2.73" height="2.08" fill="#dcdddd"/>
<rect x="212.43" y="153.97" width="2.58" height="2.08" fill="#dcdddd"/>
<rect x="256.63" y="153.97" width="2.73" height="2.08" fill="#dcdddd"/>
<rect x="261.21" y="153.97" width="2.58" height="2.08" fill="#dcdddd"/>
<rect x="327.12" y="153.97" width="2.73" height="2.08" fill="#dcdddd"/>
<rect x="331.70" y="153.97" width="2.58" height="2.08" fill="#dcdddd"/>
<rect x="406.55" y="153.97" width="2.73" height="2.08" fill="#dcdddd"/>
<rect x="411.13" y="153.97" width="2.58" height="2.08" fill="#dcdddd"/>
<rect x="437.13" y="153.97" width="2.73" height="2.08" fill="#dcdddd"/>
<rect x="441.71" y="153.97" width="2.58" height="2.08" fill="#dcdddd"/>
<rect x="444.03" y="154.31" width="1.97" height="1.74" fill="#dcdddd"/>
<rect x="447.47" y="154.31" width="1.85" height="1.74" fill="#dcdddd"/>
<rect x="636.34" y="153.97" width="2.73" height="2.08" fill="#dcdddd"/>
<rect x="640.92" y="153.97" width="2.58" height="2.08" fill="#dcdddd"/>
<rect x="643.24" y="154.31" width="1.97" height="1.74" fill="#dcdddd"/>
<rect x="646.68" y="154.31" width="1.85" height="1.74" fill="#dcdddd"/>
<rect x="101.47" y="199.24" width="2.73" height="2.08" fill="#dcdddd"/>
<rect x="106.05" y="199.24" width="2.58" height="2.08" fill="#dcdddd"/>
<rect x="107.72" y="199.24" width="2.73" height="2.08" fill="#dcdddd"/>
<rect x="112.30" y="199.24" width="2.58" height="2.08" fill="#dcdddd"/>
<rect x="126.48" y="199.24" width="2.73" height="2.08" fill="#dcdddd"/>
<rect x="131.05" y="199.24" width="2.58" height="2.08" fill="#dcdddd"/>
<rect x="207.85" y="199.24" width="2.73" height="2.08" fill="#dcdddd"/>
<rect x="212.43" y="199.24" width="2.58" height="2.08" fill="#dcdddd"/>
<rect x="327.12" y="199.24" width="2.73" height="2.08" fill="#dcdddd"/>
<rect x="331.70" y="199.24" width="2.58" height="2.08" fill="#dcdddd"/>
<rect x="401.12" y="199.24" width="2.73" height="2.08" fill="#dcdddd"/>
<rect x="405.70" y="199.24" width="2.58" height="2.08" fill="#dcdddd"/>
<rect x="408.02" y="199.58" width="1.97" height="1.74" fill="#dcdddd"/>
<rect x="411.46" y="199.58" width="1.85" height="1.74" fill="#dcdddd"/>
<rect x="444.56" y="199.24" width="2.73" height="2.08" fill="#dcdddd"/>
<rect x="449.14" y="199.24" width="2.58" height="2.08" fill="#dcdddd"/>
<rect x="636.34" y="199.24" width="2.73" height="2.08" fill="#dcdddd"/>
<rect x="640.92" y="199.24" width="2.58" height="2.08" fill="#dcdddd"/>
<rect x="643.24" y="199.58" width="1.97" height="1.74" fill="#dcdddd"/>
<rect x="646.68" y="199.58" width="1.85" height="1.74" fill="#dcdddd"/>
<rect x="101.47" y="244.51" width="2.73" height="2.08" fill="#dcdddd"/>
<rect x="106.05" y="244.51" width="2.58" height="2.08" fill="#dcdddd"/>
<rect x="107.72" y="244.51" width="2.73" height="2.08" fill="#dcdddd"/>
<rect x="112.30" y="244.51" width="2.58" height="2.08" fill="#dcdddd"/>
<rect x="126.48" y="244.51" width="2.73" height="2.08" fill="#dcdddd"/>
<rect x="131.05" y="244.51" width="2.58" height="2.08" fill="#dcdddd"/>
<rect x="207.85" y="244.51" width="2.73" height="2.08" fill="#dcdddd"/>
<rect x="212.43" y="244.51" width="2.58" height="2.08" fill="#dcdddd"/>
<rect x="327.12" y="244.51" width="2.73" height="2.08" fill="#dcdddd"/>
<rect x="331.70" y="244.51" width="2.58" height="2.08" fill="#dcdddd"/>
<rect x="400.12" y="244.51" width="2.73" height="2.08" fill="#dcdddd"/>
<rect x="404.70" y="244.51" width="2.58" height="2.08" fill="#dcdddd"/>
<rect x="407.02" y="244.85" width="1.97" height="1.74" fill="#dcdddd"/>
<rect x="410.46" y="244.85" width="1.85" height="1.74" fill="#dcdddd"/>
<rect x="443.56" y="244.51" width="2.73" height="2.08" fill="#dcdddd"/>
<rect x="448.14" y="244.51" width="2.58" height="2.08" fill="#dcdddd"/>
<rect x="636.34" y="244.51" width="2.73" height="2.08" fill="#dcdddd"/>
<rect x="640.92" y="244.51" width="2.58" height="2.08" fill="#dcdddd"/>
<rect x="643.24" y="244.85" width="1.97" height="1.74" fill="#dcdddd"/>
<rect x="646.68" y="244.85" width="1.85" height="1.74" fill="#dcdddd"/>
<rect x="101.47" y="289.78" width="2.73" height="2.08" fill="#dcdddd"/>
<rect x="106.05" y="289.78" width="2.58" height="2.08" fill="#dcdddd"/>
<rect x="107.72" y="289.78" width="2.73" height="2.08" fill="#dcdddd"/>
<rect x="112.30" y="289.78" width="2.58" height="2.08" fill="#dcdddd"/>
<rect x="126.48" y="289.78" width="2.73" height="2.08" fill="#dcdddd"/>
<rect x="131.05" y="289.78" width="2.58" height="2.08" fill="#dcdddd"/>
<rect x="207.85" y="289.78" width="2.73" height="2.08" fill="#dcdddd"/>
<rect x="212.43" y="289.78" width="2.58" height="2.08" fill="#dcdddd"/>
<rect x="327.12" y="289.78" width="2.73" height="2.08" fill="#dcdddd"/>
<rect x="331.70" y="289.78" width="2.58" height="2.08" fill="#dcdddd"/>
<rect x="401.12" y="289.78" width="2.73" height="2.08" fill="#dcdddd"/>
<rect x="405.70" y="289.78" width="2.58" height="2.08" fill="#dcdddd"/>
<rect x="408.02" y="290.12" width="1.97" height="1.74" fill="#dcdddd"/>
<rect x="411.46" y="290.12" width="1.85" height="1.74" fill="#dcdddd"/>
<rect x="444.56" y="289.78" width="2.73" height="2.08" fill="#dcdddd"/>
<rect x="449.14" y="289.78" width="2.58" height="2.08" fill="#dcdddd"/>
<rect x="636.34" y="289.78" width="2.73" height="2.08" fill="#dcdddd"/>
<rect x="640.92" y="289.78" width="2.58" height="2.08" fill="#dcdddd"/>
<rect x="643.24" y="290.12" width="1.97" height="1.74" fill="#dcdddd"/>
<rect x="646.68" y="290.12" width="1.85" height="1.74" fill="#dcdddd"/>
<rect x="101.47" y="335.05" width="2.73" height="2.08" fill="#dcdddd"/>
<rect x="106.05" y="335.05" width="2.58" height="2.08" fill="#dcdddd"/>
<rect x="107.72" y="335.05" width="2.73" height="2.08" fill="#dcdddd"/>
<rect x="112.30" y="335.05" width="2.58" height="2.08" fill="#dcdddd"/>
<rect x="126.48" y="335.05" width="2.73" height="2.08" fill="#dcdddd"/>
<rect x="131.05" y="335.05" width="2.58" height="2.08" fill="#dcdddd"/>
<rect x="327.12" y="335.05" width="2.73" height="2.08" fill="#dcdddd"/>
<rect x="331.70" y="335.05" width="2.58" height="2.08" fill="#dcdddd"/>
<rect x="404.15" y="335.05" width="2.73" height="2.08" fill="#dcdddd"/>
<rect x="408.73" y="335.05" width="2.58" height="2.08" fill="#dcdddd"/>
<rect x="411.05" y="335.39" width="1.97" height="1.74" fill="#dcdddd"/>
<rect x="414.49" y="335.39" width="1.85" height="1.74" fill="#dcdddd"/>
<rect x="101.47" y="380.32" width="2.73" height="2.08" fill="#dcdddd"/>
<rect x="106.05" y="380.32" width="2.58" height="2.08" fill="#dcdddd"/>
<rect x="107.72" y="380.32" width="2.73" height="2.08" fill="#dcdddd"/>
<rect x="112.30" y="380.32" width="2.58" height="2.08" fill="#dcdddd"/>
<rect x="126.48" y="380.32" width="2.73" height="2.08" fill="#dcdddd"/>
<rect x="131.05" y="380.32" width="2.58" height="2.08" fill="#dcdddd"/>
<rect x="327.12" y="380.32" width="2.73" height="2.08" fill="#dcdddd"/>
<rect x="331.70" y="380.32" width="2.58" height="2.08" fill="#dcdddd"/>
<rect x="404.15" y="380.32" width="2.73" height="2.08" fill="#dcdddd"/>
<rect x="408.73" y="380.32" width="2.58" height="2.08" fill="#dcdddd"/>
<rect x="411.05" y="380.66" width="1.97" height="1.74" fill="#dcdddd"/>
<rect x="414.49" y="380.66" width="1.85" height="1.74" fill="#dcdddd"/>
<rect x="101.47" y="425.59" width="2.73" height="2.08" fill="#0982d4"/>
<rect x="106.05" y="425.59" width="2.58" height="2.08" fill="#0982d4"/>
<rect x="107.72" y="425.59" width="2.73" height="2.08" fill="#0982d4"/>
<rect x="112.30" y="425.59" width="2.58" height="2.08" fill="#0982d4"/>
<rect x="126.48" y="425.59" width="2.73" height="2.08" fill="#0982d4"/>
<rect x="131.05" y="425.59" width="2.58" height="2.08" fill="#0982d4"/>
<rect x="404.15" y="425.59" width="2.73" height="2.08" fill="#0982d4"/>
<rect x="408.73" y="425.59" width="2.58" height="2.08" fill="#0982d4"/>
<rect x="411.05" y="425.93" width="1.97" height="1.74" fill="#0982d4"/>
<rect x="414.49" y="425.93" width="1.85" height="1.74" fill="#0982d4"/>
<rect x="101.47" y="470.86" width="2.73" height="2.08" fill="#dcdddd"/>
<rect x="106.05" y="470.86" width="2.58" height="2.08" fill="#dcdddd"/>
<rect x="107.72" y="470.86" width="2.73" height="2.08" fill="#dcdddd"/>
<rect x="112.30" y="470.86" width="2.58" height="2.08" fill="#dcdddd"/>
<rect x="126.48" y="470.86" width="2.73" height="2.08" fill="#dcdddd"/>
<rect x="131.05" y="470.86" width="2.58" height="2.08" fill="#dcdddd"/>
<rect x="404.15" y="470.86" width="2.73" height="2.08" fill="#dcdddd"/>
<rect x="408.73" y="470.86" width="2.58" height="2.08" fill="#dcdddd"/>
<rect x="411.05" y="471.20" width="1.97" height="1.74" fill="#dcdddd"/>
<rect x="414.49" y="471.20" width="1.85" height="1.74" fill="#dcdddd"/>
<rect x="101.47" y="516.13" width="2.73" height="2.08" fill="#dcdddd"/>
<rect x="106.05" y="516.13" width="2.58" height="2.08" fill="#dcdddd"/>
<rect x="107.72" y="516.13" width="2.73" height="2.08" fill="#dcdddd"/>
<rect x="112.30" y="516.13" width="2.58" height="2.08" fill="#dcdddd"/>
<rect x="126.48" y="516.13" width="2.73" height="2.08" fill="#dcdddd"/>
<rect x="131.05" y="516.13" width="2.58" height="2.08" fill="#dcdddd"/>
<rect x="9.70" y="561.28" width="3.07" height="2.20" fill="#dcdddd"/>
<rect x="14.79" y="561.28" width="2.90" height="2.20" fill="#dcdddd"/>
<rect x="101.47" y="561.40" width="2.73" height="2.08" fill="#dcdddd"/>
<rect x="106.05" y="561.40" width="2.58" height="2.08" fill="#dcdddd"/>
<rect x="107.72" y="561.40" width="2.73" height="2.08" fill="#dcdddd"/>
<rect x="112.30" y="561.40" width="2.58" height="2.08" fill="#dcdddd"/>
<rect x="126.48" y="561.40" width="2.73" height="2.08" fill="#dcdddd"/>
<rect x="131.05" y="561.40" width="2.58" height="2.08" fill="#dcdddd"/>
<rect x="10.25" y="606.55" width="3.07" height="2.20" fill="#dcdddd"/>
<rect x="15.34" y="606.55" width="2.90" height="2.20" fill="#dcdddd"/>
<rect x="17.47" y="606.55" width="3.07" height="2.20" fill="#dcdddd"/>
<rect x="22.56" y="606.55" width="2.90" height="2.20" fill="#dcdddd"/>
<rect x="54.27" y="606.67" width="2.73" height="2.08" fill="#dcdddd"/>
<rect x="58.84" y="606.67" width="2.58" height="2.08" fill="#dcdddd"/>
<rect x="60.53" y="606.67" width="2.73" height="2.08" fill="#dcdddd"/>
<rect x="65.11" y="606.67" width="2.58" height="2.08" fill="#dcdddd"/>
<rect x="101.47" y="606.67" width="2.73" height="2.08" fill="#dcdddd"/>
<rect x="106.05" y="606.67" width="2.58" height="2.08" fill="#dcdddd"/>
<rect x="107.72" y="606.67" width="2.73" height="2.08" fill="#dcdddd"/>
<rect x="112.30" y="606.67" width="2.58" height="2.08" fill="#dcdddd"/>
<rect x="126.48" y="606.67" width="2.73" height="2.08" fill="#dcdddd"/>
<rect x="131.05" y="606.67" width="2.58" height="2.08" fill="#dcdddd"/>
<rect x="253.51" y="606.67" width="2.73" height="2.08" fill="#dcdddd"/>
<rect x="258.09" y="606.67" width="2.58" height="2.08" fill="#dcdddd"/>
<rect x="259.76" y="606.67" width="2.73" height="2.08" fill="#dcdddd"/>
<rect x="264.33" y="606.67" width="2.58" height="2.08" fill="#dcdddd"/>
<rect x="411.05" y="607.01" width="1.97" height="1.74" fill="#dcdddd"/>
<rect x="414.49" y="607.01" width="1.85" height="1.74" fill="#dcdddd"/>
<rect x="643.24" y="607.01" width="1.97" height="1.74" fill="#dcdddd"/>
<rect x="646.68" y="607.01" width="1.85" height="1.74" fill="#dcdddd"/>
<rect x="9.70" y="651.82" width="3.07" height="2.20" fill="#dcdddd"/>
<rect x="14.79" y="651.82" width="2.90" height="2.20" fill="#dcdddd"/>
<rect x="53.78" y="651.94" width="2.73" height="2.08" fill="#dcdddd"/>
<rect x="58.36" y="651.94" width="2.58" height="2.08" fill="#dcdddd"/>
<rect x="101.47" y="651.94" width="2.73" height="2.08" fill="#dcdddd"/>
<rect x="106.05" y="651.94" width="2.58" height="2.08" fill="#dcdddd"/>
<rect x="107.72" y="651.94" width="2.73" height="2.08" fill="#dcdddd"/>
<rect x="112.30" y="651.94" width="2.58" height="2.08" fill="#dcdddd"/>
<rect x="126.48" y="651.94" width="2.73" height="2.08" fill="#dcdddd"/>
<rect x="131.05" y="651.94" width="2.58" height="2.08" fill="#dcdddd"/>
<rect x="204.73" y="651.94" width="2.73" height="2.08" fill="#dcdddd"/>
<rect x="209.30" y="651.94" width="2.58" height="2.08" fill="#dcdddd"/>
<rect x="210.97" y="651.94" width="2.73" height="2.08" fill="#dcdddd"/>
<rect x="215.55" y="651.94" width="2.58" height="2.08" fill="#dcdddd"/>
<rect x="253.02" y="651.94" width="2.73" height="2.08" fill="#dcdddd"/>
<rect x="257.60" y="651.94" width="2.58" height="2.08" fill="#dcdddd"/>
<rect x="411.05" y="652.28" width="1.97" height="1.74" fill="#dcdddd"/>
<rect x="414.49" y="652.28" width="1.85" height="1.74" fill="#dcdddd"/>
<rect x="643.24" y="652.28" width="1.97" height="1.74" fill="#dcdddd"/>
<rect x="646.68" y="652.28" width="1.85" height="1.74" fill="#dcdddd"/>
</svg>
</body></html>
